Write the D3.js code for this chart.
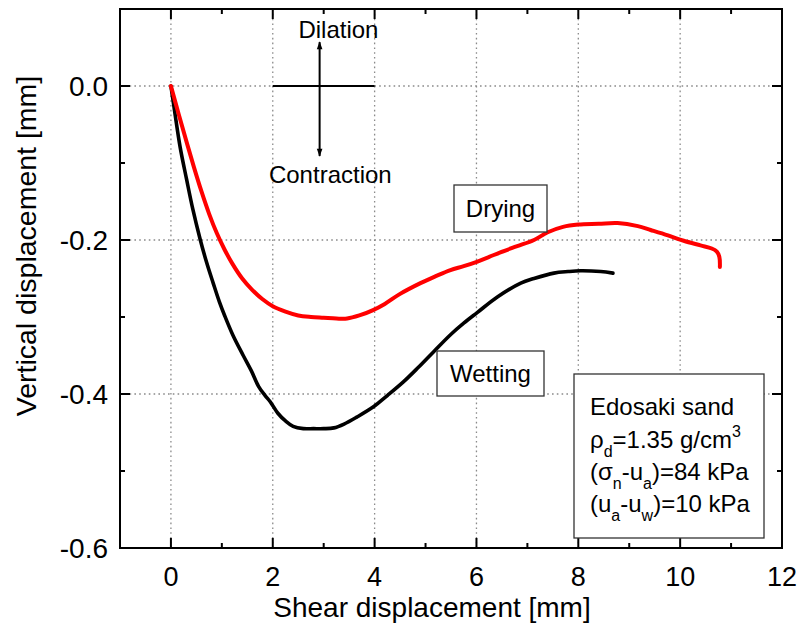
<!DOCTYPE html>
<html>
<head>
<meta charset="utf-8">
<script src="https://cdn.jsdelivr.net/npm/d3@7"></script>
<style>
  body { margin: 0; background: #fff; }
  svg { display: block; }
  text { font-family: "Liberation Sans", Arial, Helvetica, sans-serif; fill: #000; }
</style>
</head>
<body>
<svg id="chart" width="803" height="637"></svg>
<script>
// Drying path: shear displacement [mm] vs vertical displacement [mm]
const dryingX = [0, 0.15, 0.3, 0.45, 0.6, 0.75, 0.9, 1.05, 1.2, 1.4, 1.6, 1.8, 2.0, 2.25, 2.5, 2.75, 3.0, 3.25, 3.46, 3.7, 3.97, 4.2, 4.5, 4.9, 5.2, 5.49, 5.75, 6.02, 6.25, 6.47, 6.8, 7.13, 7.4, 7.7, 8.0, 8.4, 8.77, 9.17, 9.42, 9.76, 10.07, 10.4, 10.62, 10.72, 10.77, 10.78];
const dryingY = [0, -0.036, -0.071, -0.105, -0.137, -0.166, -0.191, -0.212, -0.230, -0.250, -0.265, -0.277, -0.286, -0.293, -0.298, -0.300, -0.301, -0.302, -0.302, -0.298, -0.291, -0.283, -0.270, -0.256, -0.247, -0.239, -0.234, -0.228, -0.222, -0.216, -0.208, -0.200, -0.190, -0.183, -0.180, -0.179, -0.178, -0.182, -0.187, -0.194, -0.201, -0.207, -0.211, -0.215, -0.222, -0.235];

// Wetting path
const wettingX = [0, 0.08, 0.18, 0.31, 0.43, 0.57, 0.7, 0.83, 0.95, 1.06, 1.22, 1.42, 1.58, 1.72, 1.85, 1.95, 2.1, 2.25, 2.4, 2.6, 2.8, 3.0, 3.2, 3.4, 3.65, 3.97, 4.25, 4.57, 4.85, 5.16, 5.49, 5.75, 6.02, 6.41, 6.87, 7.13, 7.52, 7.8, 8.05, 8.44, 8.68];
const wettingY = [0, -0.036, -0.079, -0.122, -0.160, -0.198, -0.229, -0.256, -0.280, -0.299, -0.324, -0.350, -0.370, -0.390, -0.402, -0.410, -0.425, -0.435, -0.442, -0.445, -0.445, -0.445, -0.444, -0.439, -0.430, -0.417, -0.402, -0.384, -0.366, -0.345, -0.323, -0.308, -0.294, -0.274, -0.256, -0.250, -0.243, -0.241, -0.240, -0.241, -0.243];

// Axis ticks and labels
const xMajorTicks = [0, 2, 4, 6, 8, 10, 12];
const xMinorTicks = [-1, 1, 3, 5, 7, 9, 11];
const xTickLabels = ["0", "2", "4", "6", "8", "10", "12"];
const yMajorTicks = [0.0, -0.2, -0.4, -0.6];
const yMinorTicks = [0.1, -0.1, -0.3, -0.5];
const yTickLabels = ["0.0", "-0.2", "-0.4", "-0.6"];
const xGridLines = [0, 2, 4, 6, 8, 10];
const yGridLines = [0.0, -0.2, -0.4];

const plot = { left: 120, right: 782, top: 9, bottom: 548 };

const svg = d3.select("#chart");
const x = d3.scaleLinear().domain([-1, 12]).range([plot.left, plot.right]);
const y = d3.scaleLinear().domain([-0.6, 0.1]).range([plot.bottom, plot.top]);

// grid
const grid = svg.append("g").attr("stroke", "#8a8a8a").attr("stroke-width", 1.3)
  .attr("stroke-dasharray", "1.6,3.2");
grid.selectAll(".gx").data(xGridLines).join("line")
  .attr("x1", d => x(d)).attr("x2", d => x(d))
  .attr("y1", plot.top).attr("y2", plot.bottom);
grid.selectAll(".gy").data(yGridLines).join("line")
  .attr("y1", d => y(d)).attr("y2", d => y(d))
  .attr("x1", plot.left).attr("x2", plot.right);

// ticks (inward on all four sides)
const MAJ = 10, MIN = 5;
function ticksX(vals, len, yPos, dir) {
  svg.append("g").selectAll("line").data(vals).join("line")
    .attr("x1", d => x(d)).attr("x2", d => x(d))
    .attr("y1", yPos).attr("y2", yPos + dir * len)
    .attr("stroke", "#000").attr("stroke-width", 2);
}
function ticksY(vals, len, xPos, dir) {
  svg.append("g").selectAll("line").data(vals).join("line")
    .attr("y1", d => y(d)).attr("y2", d => y(d))
    .attr("x1", xPos).attr("x2", xPos + dir * len)
    .attr("stroke", "#000").attr("stroke-width", 2);
}
ticksX(xMajorTicks, MAJ, plot.bottom, -1);
ticksX(xMinorTicks, MIN, plot.bottom, -1);
ticksX(xMajorTicks, MAJ, plot.top, 1);
ticksX(xMinorTicks, MIN, plot.top, 1);
ticksY(yMajorTicks, MAJ, plot.left, 1);
ticksY(yMinorTicks, MIN, plot.left, 1);
ticksY(yMajorTicks, MAJ, plot.right, -1);
ticksY(yMinorTicks, MIN, plot.right, -1);

// tick labels
svg.append("g").selectAll("text").data(xMajorTicks).join("text")
  .attr("x", d => x(d)).attr("y", 586)
  .attr("text-anchor", "middle").attr("font-size", 27)
  .text((d, i) => xTickLabels[i]);
svg.append("g").selectAll("text").data(yMajorTicks).join("text")
  .attr("x", 108).attr("y", d => y(d)).attr("dy", "0.36em")
  .attr("text-anchor", "end").attr("font-size", 28)
  .text((d, i) => yTickLabels[i]);

// axis titles
svg.append("text").attr("x", 432).attr("y", 617)
  .attr("text-anchor", "middle").attr("font-size", 28)
  .text("Shear displacement [mm]");
svg.append("text")
  .attr("transform", "translate(36,246) rotate(-90)")
  .attr("text-anchor", "middle").attr("font-size", 28.5)
  .text("Vertical displacement [mm]");

// curves
const line = d3.line().x(d => x(d[0])).y(d => y(d[1])).curve(d3.curveCatmullRom.alpha(0.5));
svg.append("path").datum(wettingX.map((v, i) => [v, wettingY[i]]))
  .attr("d", line).attr("fill", "none").attr("stroke", "#000")
  .attr("stroke-width", 3.6).attr("stroke-linejoin", "round").attr("stroke-linecap", "round");
svg.append("path").datum(dryingX.map((v, i) => [v, dryingY[i]]))
  .attr("d", line).attr("fill", "none").attr("stroke", "#ff0000")
  .attr("stroke-width", 4).attr("stroke-linejoin", "round").attr("stroke-linecap", "round");

// frame
svg.append("rect").attr("x", plot.left).attr("y", plot.top)
  .attr("width", plot.right - plot.left).attr("height", plot.bottom - plot.top)
  .attr("fill", "none").attr("stroke", "#000").attr("stroke-width", 2);

// dilation / contraction sign convention
const defs = svg.append("defs");
defs.append("marker").attr("id", "head").attr("viewBox", "0 0 10 10")
  .attr("refX", 9).attr("refY", 5)
  .attr("markerUnits", "userSpaceOnUse").attr("orient", "auto")
  .attr("markerWidth", 11).attr("markerHeight", 8)
  .append("path").attr("d", "M0,1.5 L10,5 L0,8.5 Z").attr("fill", "#000");
svg.append("line").attr("x1", x(2)).attr("x2", x(4)).attr("y1", y(0)).attr("y2", y(0))
  .attr("stroke", "#000").attr("stroke-width", 2);
const axArrowX = 2.92;
svg.append("line").attr("x1", x(axArrowX)).attr("x2", x(axArrowX))
  .attr("y1", y(0)).attr("y2", y(0.057))
  .attr("stroke", "#000").attr("stroke-width", 2).attr("marker-end", "url(#head)");
svg.append("line").attr("x1", x(axArrowX)).attr("x2", x(axArrowX))
  .attr("y1", y(0)).attr("y2", y(-0.091))
  .attr("stroke", "#000").attr("stroke-width", 2).attr("marker-end", "url(#head)");
svg.append("text").attr("x", x(3.29)).attr("y", y(0.062))
  .attr("text-anchor", "middle").attr("font-size", 24).text("Dilation");
svg.append("text").attr("x", x(3.13)).attr("y", y(-0.126))
  .attr("text-anchor", "middle").attr("font-size", 24).text("Contraction");

// labelled boxes
function labelBox(x0, y0, w, h, txt) {
  svg.append("rect").attr("x", x0).attr("y", y0).attr("width", w).attr("height", h)
    .attr("fill", "#fff").attr("stroke", "#333").attr("stroke-width", 1.3);
  svg.append("text").attr("x", x0 + w / 2).attr("y", y0 + h / 2).attr("dy", "0.36em")
    .attr("text-anchor", "middle").attr("font-size", 24).text(txt);
}
labelBox(454, 185, 93, 47, "Drying");
labelBox(437, 351, 107, 45, "Wetting");

// test conditions box
svg.append("rect").attr("x", 574).attr("y", 374).attr("width", 190).attr("height", 164)
  .attr("fill", "#fff").attr("stroke", "#333").attr("stroke-width", 1.3);
const info = svg.append("g").attr("font-size", 24);
info.append("text").attr("x", 590).attr("y", 415).text("Edosaki sand");
function richLine(yb, parts) {
  const t = info.append("text").attr("x", 590).attr("y", yb);
  let shift = 0;
  parts.forEach(([s, kind]) => {
    const ts = t.append("tspan").text(s);
    const target = kind === "sub" ? 9 : kind === "sup" ? -11 : 0;
    ts.attr("dy", target - shift);
    if (kind) ts.attr("font-size", 16);
    shift = target;
  });
}
richLine(448, [["ρ", null], ["d", "sub"], ["=1.35 g/cm", null], ["3", "sup"]]);
richLine(480, [["(σ", null], ["n", "sub"], ["-u", null], ["a", "sub"], [")=84 kPa", null]]);
richLine(512, [["(u", null], ["a", "sub"], ["-u", null], ["w", "sub"], [")=10 kPa", null]]);
</script>
</body>
</html>
